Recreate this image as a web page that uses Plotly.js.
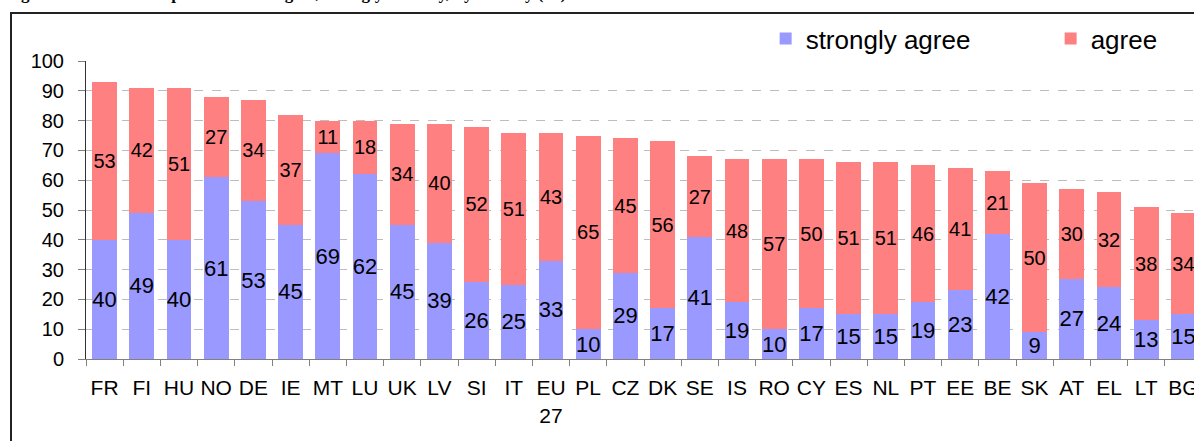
<!DOCTYPE html>
<html>
<head>
<meta charset="utf-8">
<script src="https://cdn.plot.ly/plotly-3.0.1.min.js"></script>
<style>
html,body{margin:0;padding:0;width:1194px;height:441px;overflow:hidden;background:#fff;}
#chart{position:absolute;left:0;top:0;width:1240px;height:441px;}
#frame{position:absolute;left:10px;top:12px;width:2000px;height:1000px;border-left:2px solid #222;border-top:2px solid #222;pointer-events:none;z-index:5;}
</style>
</head>
<body>
<div id="chart"></div>
<div id="frame"></div>
<script>
const countries = ["FR","FI","HU","NO","DE","IE","MT","LU","UK","LV","SI","IT","EU<br>27","PL","CZ","DK","SE","IS","RO","CY","ES","NL","PT","EE","BE","SK","AT","EL","LT","BG"];
const stronglyAgree = [40,49,40,61,53,45,69,62,45,39,26,25,33,10,29,17,41,19,10,17,15,15,19,23,42,9,27,24,13,15];
const agree = [53,42,51,27,34,37,11,18,34,40,52,51,43,65,45,56,27,48,57,50,51,51,46,41,21,50,30,32,38,34];
const yTicks = [0,10,20,30,40,50,60,70,80,90,100];
const titleText = "Figure 12: Share of respondents who agree, strongly or fairly, by country (%)";

const font = "Arial, 'Liberation Sans', sans-serif";

const traces = [
  {
    type: "bar", name: "strongly agree", x: countries, y: stronglyAgree,
    marker: {color: "#9999FF"},
    texttemplate: "%{y}", textposition: "inside", insidetextanchor: "middle",
    textangle: 0, constraintext: "none",
    textfont: {family: font, size: 22, color: "#000"},
    hoverinfo: "skip"
  },
  {
    type: "bar", name: "agree", x: countries, y: agree,
    marker: {color: "#FF8080"},
    texttemplate: "%{y}", textposition: "inside", insidetextanchor: "middle",
    textangle: 0, constraintext: "none",
    textfont: {family: font, size: 20, color: "#000"},
    hoverinfo: "skip"
  }
];

const layout = {
  width: 1240, height: 441,
  margin: {l: 86, r: 38, t: 61, b: 82, pad: 0, autoexpand: false},
  paper_bgcolor: "#fff", plot_bgcolor: "#fff",
  barmode: "stack", bargap: 0.33,
  font: {family: font, color: "#000"},
  showlegend: true,
  legend: {
    orientation: "h", x: 0.609, xanchor: "left", y: 1.154, yanchor: "top",
    font: {family: font, size: 26, color: "#000"},
    bgcolor: "#fff", borderwidth: 0, entrywidth: 240, traceorder: "normal"
  },
  xaxis: {
    type: "category", range: [-0.5, 29.5], fixedrange: true, automargin: false,
    showline: true, linecolor: "#808080", linewidth: 1,
    ticks: "outside", tickson: "boundaries", ticklen: 6, tickcolor: "#808080",
    tickfont: {family: font, size: 21, color: "#000"}, tickangle: 0,
    ticklabelstandoff: 10,
    showgrid: false, zeroline: false
  },
  yaxis: {
    range: [0, 100], tickvals: yTicks, fixedrange: true, automargin: false,
    showline: true, linecolor: "#333", linewidth: 1,
    ticks: "outside", ticklen: 7, tickcolor: "#808080",
    tickfont: {family: font, size: 20, color: "#000"},
    ticklabelstandoff: 10,
    showgrid: true, gridcolor: "#bdbdbd", gridwidth: 1, griddash: "dash",
    zeroline: false
  },
  shapes: [
    {type: "rect", xref: "paper", yref: "paper", x0: 0.583, x1: 1.1, y0: 0.983, y1: 1.02,
     fillcolor: "#fff", line: {width: 0}, layer: "above"}
  ],
  annotations: [
    {text: "<b>" + titleText + "</b>", xref: "paper", yref: "paper",
     x: (4 - 86) / 1116, xanchor: "left", y: (359 + 6) / 298, yanchor: "middle",
     showarrow: false, font: {family: "'Liberation Serif', 'Times New Roman', serif", size: 17, color: "#000"}}
  ]
};

Plotly.newPlot("chart", traces, layout, {staticPlot: true, displayModeBar: false});
</script>
</body>
</html>
